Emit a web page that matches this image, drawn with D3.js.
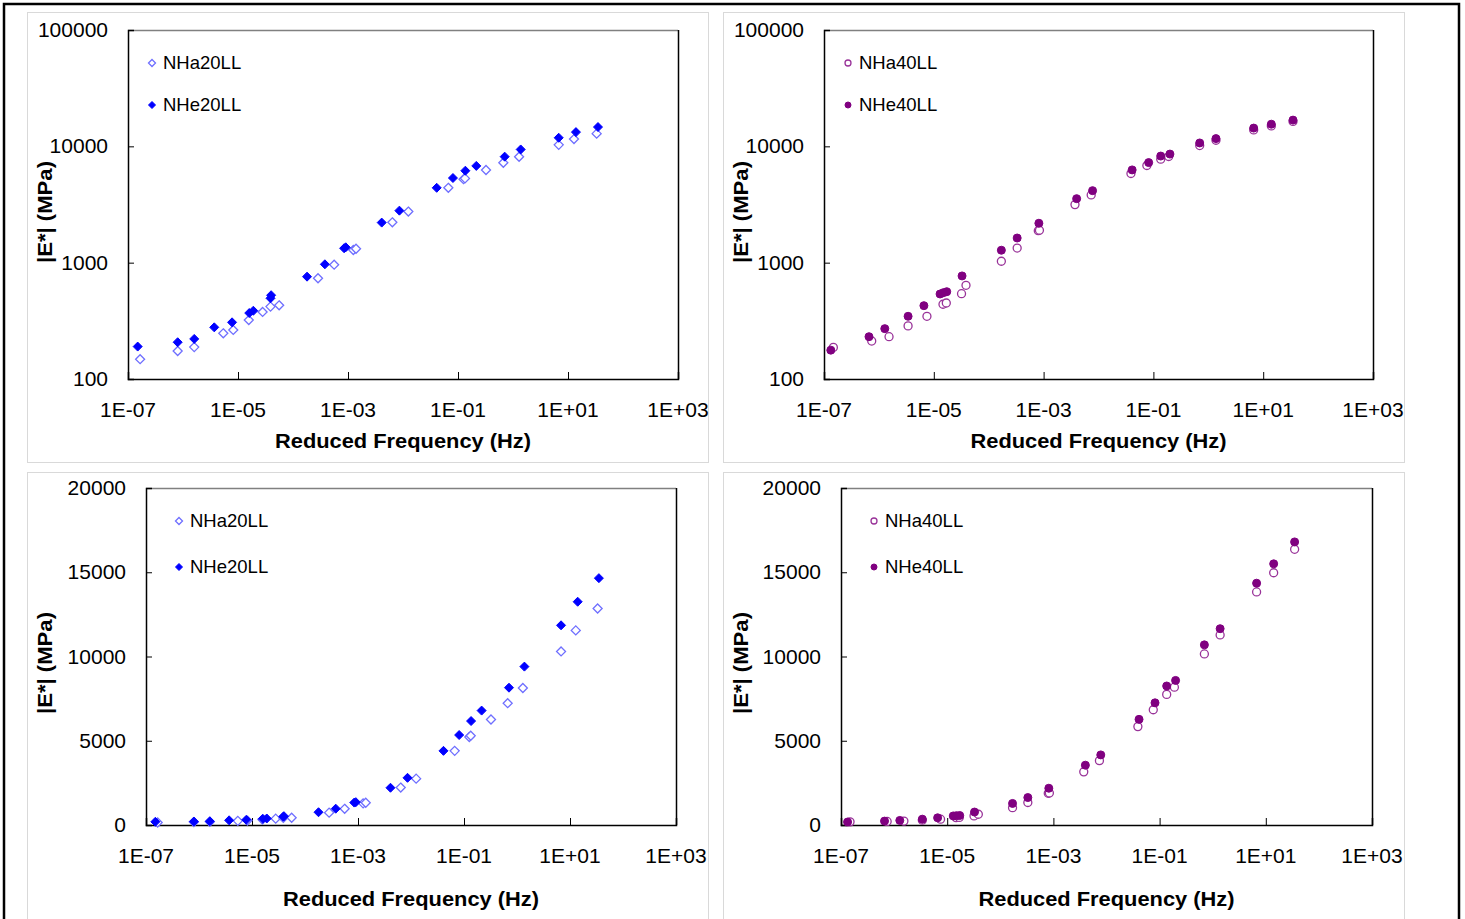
<!DOCTYPE html>
<head>
    <meta charset="utf-8">
    <script src="https://d3js.org/d3.v7.min.js"></script>
    <style>
        body { margin:0; background:#fff; }
        text { font-family: "Liberation Sans", Arial, sans-serif; fill:#000; }
    </style>
</head>
<body>
<script>
    // reduced frequency (Hz) and |E*| (MPa)
    var nhe20Freq = [1.5e-7, 8.0e-7, 1.6e-6, 3.7e-6, 7.8e-6, 1.6e-5, 1.9e-5, 3.9e-5, 4.0e-5, 1.8e-4, 3.8e-4, 8.5e-4,
        9.1e-4, 4.1e-3, 8.6e-3, 0.041, 0.081, 0.136, 0.215, 0.706, 1.38, 6.78, 13.96, 35.1];
    var nhe20E = [190, 207, 221, 278, 307, 369, 386, 494, 525, 758, 968, 1330,
        1355, 2210, 2800, 4400, 5340, 6170, 6790, 8150, 9400, 11850, 13250, 14650];

    var nha20Freq = [1.66e-7, 8.0e-7, 1.6e-6, 5.4e-6, 8.2e-6, 1.57e-5, 2.8e-5, 3.9e-5, 5.6e-5, 2.85e-4, 5.6e-4, 1.25e-3,
        1.4e-3, 6.4e-3, 0.0125, 0.0667, 0.126, 0.134, 0.323, 0.667, 1.29, 6.78, 12.85, 33.2];
    var nha20E = [148, 174, 188, 247, 264, 321, 377, 419, 430, 734, 961, 1285,
        1318, 2222, 2750, 4400, 5220, 5300, 6260, 7230, 8130, 10300, 11550, 12850];

    var nhe40Freq = [1.33e-7, 6.6e-7, 1.28e-6, 3.4e-6, 6.6e-6, 1.3e-5, 1.49e-5, 1.72e-5, 3.27e-5, 1.7e-4, 3.3e-4, 8.2e-4,
        4.0e-3, 7.8e-3, 0.041, 0.082, 0.136, 0.2, 0.697, 1.38, 6.71, 14.06, 34.9];
    var nhe40E = [177, 231, 271, 346, 427, 538, 552, 563, 769, 1279, 1629, 2182,
        3550, 4160, 6270, 7250, 8250, 8580, 10690, 11650, 14350, 15500, 16800];

    var nha40Freq = [1.48e-7, 7.4e-7, 1.53e-6, 3.4e-6, 7.5e-6, 1.47e-5, 1.69e-5, 3.2e-5, 3.86e-5, 1.7e-4, 3.3e-4, 8.0e-4,
        8.4e-4, 3.73e-3, 7.36e-3, 0.039, 0.076, 0.136, 0.19, 0.697, 1.38, 6.71, 14.06, 34.9];
    var nha40E = [187, 212, 231, 286, 346, 439, 450, 541, 639, 1028, 1336, 1884,
        1900, 3155, 3820, 5840, 6840, 7750, 8180, 10150, 11280, 13830, 14970, 16360];

    var xTicks = [1e-7, 1e-5, 1e-3, 1e-1, 1e1, 1e3];
    var xTickLabels = ["1E-07", "1E-05", "1E-03", "1E-01", "1E+01", "1E+03"];
    var logYTicks = [100, 1000, 10000, 100000];
    var linYTicks = [0, 5000, 10000, 15000, 20000];

    function zip(f, e) { return f.map(function(d, i) { return [d, e[i]]; }); }

    var svg = d3.select("body").append("svg")
        .attr("width", 1465)
        .attr("height", 919);

    svg.append("rect").attr("x", 4).attr("y", 4).attr("width", 1455).attr("height", 920)
        .attr("fill", "none").attr("stroke", "#000").attr("stroke-width", 2.5);

    var panels = [
        {box: [27, 12, 681, 450], plot: [128, 30, 678, 379], log: true,
            series: [{name: "NHa20LL", data: zip(nha20Freq, nha20E), shape: "diamond", open: true, color: "#6f6fff"},
                     {name: "NHe20LL", data: zip(nhe20Freq, nhe20E), shape: "diamond", open: false, color: "#0000ff"}]},
        {box: [723, 12, 681, 450], plot: [824, 30, 1373, 379], log: true,
            series: [{name: "NHa40LL", data: zip(nha40Freq, nha40E), shape: "circle", open: true, color: "#993399"},
                     {name: "NHe40LL", data: zip(nhe40Freq, nhe40E), shape: "circle", open: false, color: "#800080"}]},
        {box: [27, 472, 681, 460], plot: [146, 488, 676, 825], log: false,
            series: [{name: "NHa20LL", data: zip(nha20Freq, nha20E), shape: "diamond", open: true, color: "#6f6fff"},
                     {name: "NHe20LL", data: zip(nhe20Freq, nhe20E), shape: "diamond", open: false, color: "#0000ff"}]},
        {box: [723, 472, 681, 460], plot: [841, 488, 1372, 825], log: false,
            series: [{name: "NHa40LL", data: zip(nha40Freq, nha40E), shape: "circle", open: true, color: "#993399"},
                     {name: "NHe40LL", data: zip(nhe40Freq, nhe40E), shape: "circle", open: false, color: "#800080"}]}
    ];

    function marker(g, s, cx, cy, size) {
        if (s.shape == "diamond") {
            var r = size / 2;
            g.append("path")
                .attr("d", "M" + cx + "," + (cy - r) + "L" + (cx + r) + "," + cy + "L" + cx + "," + (cy + r) + "L" + (cx - r) + "," + cy + "Z")
                .attr("fill", s.open ? "#fff" : s.color)
                .attr("stroke", s.color).attr("stroke-width", s.open ? 1.3 : 1);
        } else {
            g.append("circle").attr("cx", cx).attr("cy", cy).attr("r", size / 2 - 0.5)
                .attr("fill", s.open ? "#fff" : s.color)
                .attr("stroke", s.color).attr("stroke-width", s.open ? 1.3 : 1);
        }
    }

    panels.forEach(function(p) {
        var g = svg.append("g");
        var L = p.plot[0], T = p.plot[1], R = p.plot[2], B = p.plot[3];

        g.append("rect").attr("x", p.box[0] + 0.5).attr("y", p.box[1] + 0.5)
            .attr("width", p.box[2]).attr("height", p.box[3])
            .attr("fill", "#fff").attr("stroke", "#d9d9d9");

        var x = d3.scaleLog().domain([1e-7, 1e3]).range([L, R]);
        var y = p.log ? d3.scaleLog().domain([100, 100000]).range([B, T])
                      : d3.scaleLinear().domain([0, 20000]).range([B, T]);
        var yTicks = p.log ? logYTicks : linYTicks;

        // plot area frame
        g.append("line").attr("x1", L).attr("x2", R).attr("y1", T + 0.5).attr("y2", T + 0.5)
            .attr("stroke", "#808080").attr("stroke-width", 1.5);
        g.append("line").attr("x1", R + 0.5).attr("x2", R + 0.5).attr("y1", T).attr("y2", B)
            .attr("stroke", "#000").attr("stroke-width", 1.5);

        // y axis (ticks inside)
        var ya = g.append("g").attr("transform", "translate(" + L + ",0)")
            .call(d3.axisRight(y).tickValues(yTicks).tickSize(6).tickFormat(""));
        ya.select(".domain").attr("stroke-width", 1.5);
        yTicks.forEach(function(t) {
            g.append("text").attr("x", L - 20).attr("y", y(t) + 7)
                .attr("text-anchor", "end").style("font-size", "21px").text(t);
        });

        // x axis (ticks inside)
        var xa = g.append("g").attr("transform", "translate(0," + B + ")")
            .call(d3.axisTop(x).tickValues(xTicks).tickSize(7).tickFormat(""));
        xa.select(".domain").attr("stroke-width", 1.5);
        xTicks.forEach(function(t, i) {
            g.append("text").attr("x", x(t)).attr("y", B + 38)
                .attr("text-anchor", "middle").style("font-size", "21px").text(xTickLabels[i]);
        });

        g.append("text").attr("x", (L + R) / 2).attr("y", p.log ? 448 : 906)
            .attr("text-anchor", "middle").style("font-size", "20.5px").style("font-weight", "bold")
            .attr("textLength", 256).attr("lengthAdjust", "spacingAndGlyphs")
            .text("Reduced Frequency (Hz)");

        var ycx = p.box[0] + 25, ycy = p.log ? 212 : 663;
        g.append("text").attr("transform", "translate(" + ycx + "," + ycy + ") rotate(-90)")
            .attr("text-anchor", "middle").style("font-size", "20.5px").style("font-weight", "bold")
            .attr("textLength", 102).attr("lengthAdjust", "spacingAndGlyphs")
            .text("|E*| (MPa)");

        // points
        p.series.forEach(function(s) {
            s.data.forEach(function(d) {
                marker(g, s, x(d[0]), y(d[1]), 9);
            });
        });

        // legend
        var lx = L + (p.log ? 24 : 33), ly = T + 33, gap = p.log ? 42 : 46;
        p.series.forEach(function(s, i) {
            marker(g, s, lx, ly + i * gap, 7);
            g.append("text").attr("x", lx + 11).attr("y", ly + i * gap + 6)
                .style("font-size", "18.5px").text(s.name);
        });
    });
</script>
</body>
